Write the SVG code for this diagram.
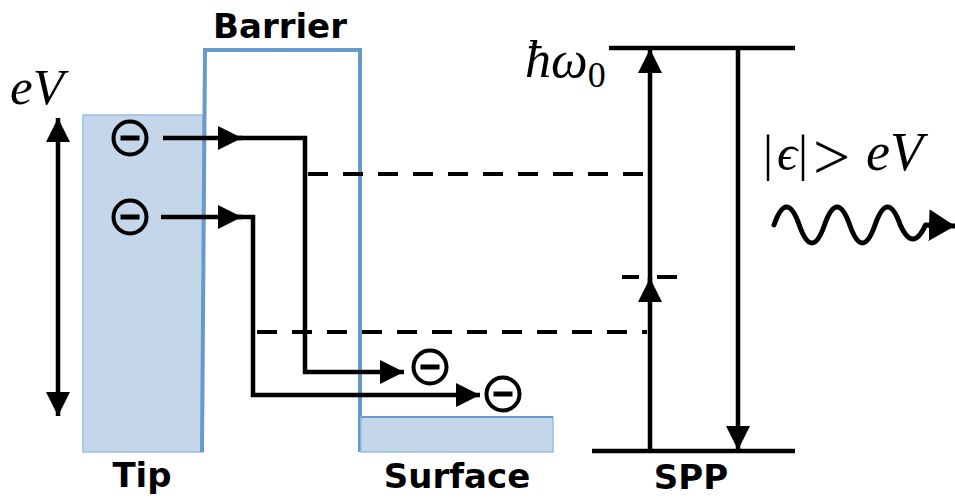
<svg xmlns="http://www.w3.org/2000/svg" width="955" height="501" viewBox="0 0 955 501">
<defs>
<style>
.lbl{font-family:"DejaVu Sans","Liberation Sans",sans-serif;font-weight:bold;font-size:34px;fill:#000;text-anchor:middle}
.math{font-family:"Liberation Serif","DejaVu Serif",serif;font-style:italic;fill:#000}
.up{font-family:"Liberation Serif","DejaVu Serif",serif;font-style:normal;fill:#000}
.ln{fill:none;stroke:#000;stroke-width:4.5}
.dash{fill:none;stroke:#000;stroke-width:4;stroke-dasharray:20 15}
.blue{fill:none;stroke:#6699cc;stroke-width:4}
.band{fill:#c3d6ea;stroke:#9bbde2;stroke-width:1.5}
.el circle{fill:none;stroke:#000;stroke-width:4}
.el line{stroke:#000;stroke-width:5}
</style>
<marker id="ah" markerUnits="userSpaceOnUse" markerWidth="24" markerHeight="24" refX="24" refY="12" orient="auto-start-reverse" viewBox="0 0 24 24">
<path d="M0,0 L24,12 L0,24 z" fill="#000"/>
</marker>
<marker id="ahw" markerUnits="userSpaceOnUse" markerWidth="26" markerHeight="32" refX="26" refY="16" orient="auto" viewBox="0 0 26 32">
<path d="M0,0 L26,16 L0,32 z" fill="#000"/>
</marker>
<g id="electron" class="el"><circle cx="0" cy="0" r="16.5"/><line x1="-9.5" y1="0" x2="9.5" y2="0"/></g>
</defs>
<rect width="955" height="501" fill="#fff"/>

<g id="tip">
<rect class="band" x="83" y="115" width="120" height="337"/>
<text class="lbl" x="142" y="487">Tip</text>
</g>

<g id="barrier">
<path class="blue" d="M202,452 L205,50 L360,50 L360,452"/>
<text class="lbl" x="280" y="38">Barrier</text>
</g>

<g id="surface">
<rect class="band" x="361" y="417" width="192" height="35"/>
<line x1="361" y1="417" x2="553" y2="417" stroke="#6a9bd0" stroke-width="2"/>
<text class="lbl" x="457" y="488">Surface</text>
</g>

<g id="spp">
<line class="ln" x1="609" y1="48" x2="795" y2="48"/>
<line class="ln" x1="592" y1="451" x2="795" y2="451"/>
<text class="lbl" x="691" y="489">SPP</text>
</g>

<g id="labels">
<text class="math" x="10" y="104" font-size="51">eV</text>
<text class="math" x="525" y="77" font-size="52">ħω<tspan class="up" font-size="36" dy="10">0</tspan></text>
<text class="up" font-size="50" y="170"><tspan x="763">|</tspan><tspan class="math" x="777">ϵ</tspan><tspan x="798">|</tspan><tspan x="813" font-size="66" dy="9">&gt;</tspan><tspan class="math" x="866" font-size="54" dy="-9">eV</tspan></text>
</g>

<g id="electrons">
<use href="#electron" x="130" y="138"/>
<use href="#electron" x="130" y="217"/>
<use href="#electron" x="430" y="367"/>
<use href="#electron" x="503" y="394"/>
</g>

<g id="connectors">
<line class="ln" x1="58" y1="118" x2="58" y2="416" marker-start="url(#ah)" marker-end="url(#ah)"/>
<line class="ln" x1="163" y1="138" x2="242" y2="138" marker-end="url(#ah)"/>
<polyline class="ln" points="230,138 305,138 305,372 404,372" marker-end="url(#ah)"/>
<line class="ln" x1="161" y1="217" x2="242" y2="217" marker-end="url(#ah)"/>
<polyline class="ln" points="230,217 253,217 253,395 480,395" marker-end="url(#ah)"/>
<line class="dash" x1="308" y1="174" x2="643" y2="174"/>
<line class="dash" x1="257" y1="332" x2="647" y2="332"/>
<line x1="622" y1="277" x2="639" y2="277" stroke="#000" stroke-width="4"/>
<line x1="657" y1="277" x2="677" y2="277" stroke="#000" stroke-width="4"/>
<line class="ln" x1="650" y1="451" x2="650" y2="278" marker-end="url(#ah)"/>
<line class="ln" x1="650" y1="285" x2="650" y2="49" marker-end="url(#ah)"/>
<line class="ln" x1="738" y1="48" x2="738" y2="450" marker-end="url(#ah)"/>
<path d="M774,225 q12.6,-36 25.25,0 t25.25,0 t25.25,0 t25.25,0 t25.25,0 q12.6,28 25.25,0 L955,226" fill="none" stroke="#000" stroke-width="5" stroke-linecap="round" stroke-linejoin="round" marker-end="url(#ahw)"/>
</g>
</svg>
